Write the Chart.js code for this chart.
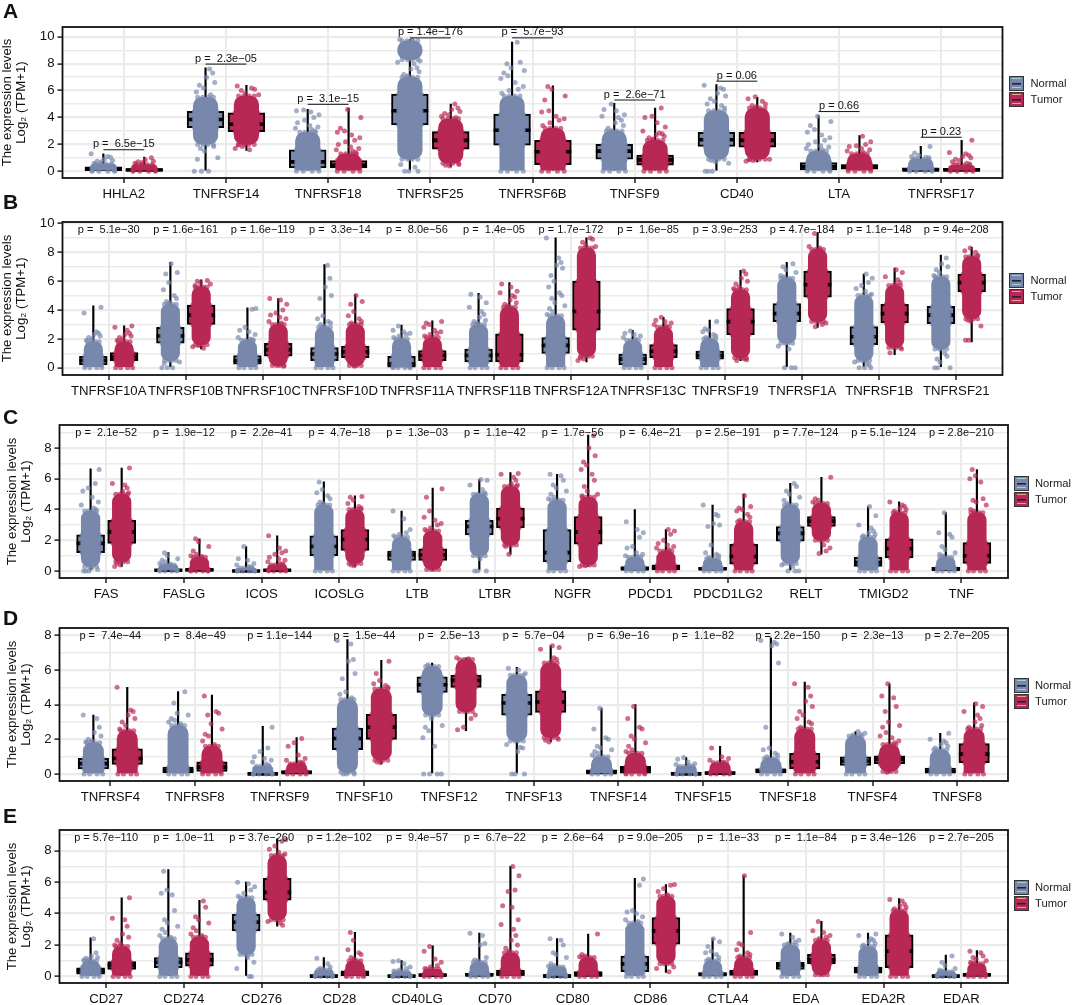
<!DOCTYPE html>
<html>
<head>
<meta charset="utf-8">
<title>Expression levels</title>
<script src="https://cdn.jsdelivr.net/npm/chart.js@4"></script>
<style>
  body { margin: 0; background: #fff; font-family: "Liberation Sans", Arial, sans-serif; }
  #page { position: relative; width: 1072px; height: 1005px; overflow: hidden; }
  canvas { position: absolute; left: 0; }
  .letter { position: absolute; left: 3px; font-size: 21px; font-weight: bold; line-height: 20px; color: #111; }
  .key { position: absolute; width: 15px; height: 15px; box-sizing: border-box; border: 1.5px solid #333; }
  .keyText { position: absolute; font-size: 11.2px; line-height: 14px; color: #222; }
</style>
</head>
<body>
<div id="page"></div>
<script>
// Panel A
const genesA = ["HHLA2", "TNFRSF14", "TNFRSF18", "TNFRSF25", "TNFRSF6B", "TNFSF9", "CD40", "LTA", "TNFRSF17"];
const pTextA = ["p =  6.5e−15", "p =  2.3e−05", "p =  3.1e−15", "p = 1.4e−176", "p =  5.7e−93", "p =  2.6e−71", "p = 0.06", "p = 0.66", "p = 0.23"];
const pLineA = [1.6, 7.97, 4.98, 9.92, 9.92, 5.3, 6.7, 4.44, 2.53];
const yTicksA = [0, 1, 2, 3, 4, 5, 6, 7, 8, 9, 10];
// low whisker, q1, median, q3, high whisker
const normalBoxA = [[0,.05,.2,.3,1.3],[0,3.25,3.85,4.45,7.7],[0,.25,.7,1.6,4.6],[0,3.45,4.5,5.75,9.8],[0,1.95,3.05,4.25,9.6],[0,.9,1.5,2,5.05],[0,1.85,2.35,2.9,6.45],[0,.1,.35,.65,4.15],[0,0,.1,.25,1.85]];
const tumorBoxA = [[0,.05,.1,.2,1.05],[1.55,2.95,3.5,4.35,6.4],[0,.25,.45,.8,4.7],[.35,1.65,2.3,2.95,5],[0,.5,1.45,2.3,6.35],[0,.45,.85,1.2,4.7],[.7,1.8,2.3,2.9,5.5],[0,.15,.35,.5,2.65],[0,0,.1,.22,2.3]];
// dense part of each cloud (pairs of from, to)
const normalBandA = [[0,.55],[2,5.5],[0,2.9],[.9,7,8.3,9.7],[0,5.6],[0,3],[.9,4.5],[0,1.5],[0,.9]];
const tumorBandA = [[0,.5],[2,5.6],[0,1.3],[.6,3.9],[0,3.2],[0,2.3],[.9,4.7],[0,1.3],[0,.45]];
// single dots outside the dense part
const normalDotsA = [[.6,.7,.75,.8,.9,1.05,1.1,1.3],[0,0,0,.9,1,1.5,1.7,1.85,5.7,5.9,6.2,6.4,6.6,7,7.3,7.6],[3,3.1,3.2,3.3,3.4,3.6,3.8,4,4.2,4.4,4.5,4.55],[0,0,0,.3,.5,7.1,7.2,7.4,7.6,7.7,8,8.1,8.2,9.75,9.8],[5.8,6,6.1,6.3,6.6,6.9,7.1,7.3,7.5,7.7,8,8.1,9.6],[3,3.2,3.4,3.6,3.8,4,4.1,4.2,4.5,4.6,5],[0,0,0,.6,.7,.8,4.7,4.9,5,5.2,5.4,5.6,5.8,6.1,6.2,6.4],[1.6,1.7,1.8,1.9,2,2.2,2.3,2.5,2.7,2.9,3.1,3.4,3.7,4.1],[.95,1,1.05,1.1,1.2,1.35,1.85]];
const tumorDotsA = [[.6,.65,.7,.75,.85,1],[1.6,1.7,1.85,1.95,5.7,5.8,6,6.1,6.2,6.35],[1.4,1.5,1.6,1.7,1.8,2,2.2,2.3,2.5,2.7,2.9,3,3.2,4,4.6],[.4,.45,.5,4,4.1,4.2,4.3,4.45,4.6,4.7,5],[3.4,3.6,3.8,3.9,4.1,4.4,4.5,5.3,5.6,6.1,6.3],[2.4,2.5,2.6,2.7,2.8,2.85,3,3.3,3.6,4,4.1,4.7],[.75,.8,.85,.9,4.8,4.9,5,5.2,5.4,5.55],[1.4,1.5,1.6,1.7,1.85,1.9,2,2.2,2.6],[.5,.55,.6,.7,.8,.9,1,1.1,1.2,1.3,1.4,2.3]];

// Panel B
const genesB = ["TNFRSF10A", "TNFRSF10B", "TNFRSF10C", "TNFRSF10D", "TNFRSF11A", "TNFRSF11B", "TNFRSF12A", "TNFRSF13C", "TNFRSF19", "TNFRSF1A", "TNFRSF1B", "TNFRSF21"];
const pTextB = ["p =  5.1e−30", "p = 1.6e−161", "p = 1.6e−119", "p =  3.3e−14", "p =  8.0e−56", "p =  1.4e−05", "p = 1.7e−172", "p =  1.6e−85", "p = 3.9e−253", "p = 4.7e−184", "p = 1.1e−148", "p = 9.4e−208"];
const yTicksB = [0, 1, 2, 3, 4, 5, 6, 7, 8, 9, 10];
const normalBoxB = [[0,.2,.5,.8,4.3],[0,1.7,2.2,2.8,7.3],[0,.25,.5,.85,4.15],[0,.5,.95,1.4,7.15],[0,.05,.25,.8,2.95],[0,.4,.85,1.3,5.15],[0,1,1.55,2.1,9],[0,.2,.6,.95,2.6],[0,.6,.85,1.15,3.3],[0,3.2,3.75,4.45,7.3],[0,1.6,2.15,2.85,6.5],[0,3.05,3.65,4.25,7.8]];
const tumorBoxB = [[0,.5,.75,1.05,2.9],[1.3,3,3.65,4.35,6.1],[.1,.8,1.25,1.7,4.8],[.1,.7,1.1,1.5,5.05],[0,.5,.85,1.2,3.25],[0,.4,.9,2.35,5.9],[.4,2.6,3.9,6,9],[0,.7,1.15,1.6,3.5],[.5,2.3,3.2,4.1,6.75],[2.8,4.9,5.75,6.7,9.35],[.9,3.1,3.75,4.4,6.9],[1.8,5.25,5.9,6.5,8.35]];
const normalBandB = [[0,1.8],[.5,4.4],[0,1.9],[0,2.8],[0,2],[0,3],[0,3.6],[0,1.9],[0,2],[1.7,6.2],[.5,5],[1.3,6.3]];
const tumorBandB = [[0,1.8],[1.6,5.6],[.15,3],[.15,3],[0,2.1],[0,4.2],[.8,8.3],[0,2.8],[.7,5.4],[3.2,8.2],[1.4,5.7],[3.4,7.7]];
const normalDotsB = [[1.9,2,2.1,2.2,2.3,2.4,2.5,3.8,4.2],[0,0,0,.3,.4,4.5,4.6,4.8,5,5.4,5.9,6.5,6.6,7.2],[1.95,2,2.1,2.3,2.5,2.6,2.8,4.05,4.1],[2.9,3,3.1,3.2,3.4,3.6,4.8,5,5.6,6.2,7.1],[2.1,2.2,2.3,2.4,2.5,2.6,2.9],[3.1,3.2,3.3,3.5,3.7,3.9,4.2,4.5,4.9,5.1],[3.7,3.9,4.1,4.3,4.5,4.8,5,5.2,5.6,6,6.4,6.9,7.1,7.3,7.6,9],[2,2.1,2.2,2.3,2.4,2.55],[2.1,2.2,2.3,2.5,2.6,2.7,3.2],[0,0,0,1.3,1.5,6.3,6.4,6.6,6.8,7,7.2],[0,0,0,.2,.3,.4,5.1,5.3,5.5,5.7,5.9,6.2,6.5],[0,0,0,.4,.6,.8,1,6.4,6.6,6.8,7,7.2,7.6]];
const tumorDotsB = [[1.9,2,2.1,2.2,2.3,2.4,2.6,2.8,2.9],[1.35,1.45,1.55,5.7,5.8,5.9,6,6.05],[.1,3.1,3.2,3.4,3.5,3.65,3.8,4,4.4,4.7,4.8],[.1,3.1,3.2,3.4,3.6,3.9,4.4,4.6,5],[2.2,2.3,2.4,2.5,2.6,2.8,3,3.1,3.2],[4.3,4.4,4.5,4.7,4.9,5,5.2,5.3,5.6,5.8],[.5,.6,.7,8.4,8.5,8.7,8.9,9],[2.9,3,3.1,3.2,3.3,3.5],[.5,.55,.6,5.5,5.6,5.8,6,6.2,6.5,6.7],[2.85,3,3.1,8.3,8.4,9.3],[1.05,1.3,5.8,5.9,6.1,6.3,6.6,6.8],[1.9,1.9,2.9,3.2,3.3,7.8,8,8.1,8.3]];

// Panel C
const genesC = ["FAS", "FASLG", "ICOS", "ICOSLG", "LTB", "LTBR", "NGFR", "PDCD1", "PDCD1LG2", "RELT", "TMIGD2", "TNF"];
const pTextC = ["p =  2.1e−52", "p =  1.9e−12", "p =  2.2e−41", "p =  4.7e−18", "p =  1.3e−03", "p =  1.1e−42", "p =  1.7e−56", "p =  6.4e−21", "p = 2.5e−191", "p = 7.7e−124", "p = 5.1e−124", "p = 2.8e−210"];
const yTicksC = [0, 1, 2, 3, 4, 5, 6, 7, 8, 9];
const normalBoxC = [[0,1.2,1.8,2.35,6.65],[0,0,.05,.1,1.2],[0,0,.01,.05,1.6],[0,1,1.6,2.3,5.8],[0,.7,1.05,1.3,3.9],[0,2.35,2.9,3.3,5.95],[0,.6,1.2,2.7,6.3],[0,0,.15,.3,4],[0,0,.15,.25,4.3],[0,1.95,2.45,2.9,5.7],[0,.3,.55,.9,4.2],[0,0,.13,.25,3.8]];
const tumorBoxC = [[.3,1.8,2.55,3.3,6.7],[0,.02,.08,.15,2.1],[0,0,.05,.1,2.3],[.3,1.35,2.05,2.7,4.9],[.05,.7,1.05,1.45,5.4],[1.1,2.8,3.4,4.1,6.4],[.3,1.75,2.55,3.55,8.85],[0,0,.2,.4,2.7],[0,.45,.95,1.75,5],[1.1,2.9,3.25,3.55,6.1],[0,.85,1.45,2.1,4.5],[0,.5,1,1.85,6.6]];
const normalBandC = [[.3,3.9],[0,.4],[0,.2],[0,4.3],[0,2.2],[1,5],[0,4.6],[0,.9],[0,.8],[.5,4.3],[0,2.2],[0,.9]];
const tumorBandC = [[.6,5],[0,.9],[0,.4],[.5,4],[.1,2.6],[1.7,5.5],[.4,4.8],[0,1.3],[0,3.2],[2,4.4],[0,3.8],[0,3.8]];
const normalDotsC = [[0,0,0,.1,.2,4,4.1,4.3,4.5,4.8,5.2,5.4,5.7,6.6],[.45,.5,.6,.7,.8,1,1.2],[.25,.3,.4,.5,.7,.8,1.6],[4.4,4.5,4.7,4.9,5.1,5.3,5.8],[2.3,2.4,2.5,2.7,3.4,3.9],[0,0,0,.8,5.1,5.3,5.6,5.9,5.95],[4.7,4.8,5,5.2,5.4,5.6,5.9,6.2,6.3],[.95,1,1.1,1.2,1.5,1.6,2.2,2.5,2.7,3.2],[.9,1,1.1,1.2,1.7,2.9,3,3.1,3.6,3.7,4.3],[0,0,0,.3,.4,4.4,4.6,4.8,5,5.2,5.5,5.7],[2.3,2.4,2.5,2.6,2.8,3,3.6,4.2],[1,1.1,1.2,1.4,1.6,2.2,2.4,2.5,3.8]];
const tumorDotsC = [[.3,.4,.5,5.1,5.2,5.4,5.6,5.7,6.7],[.95,1,1.1,1.3,1.6,1.9,2.1],[.45,.5,.6,.7,.8,.9,1.1,1.2,1.3,1.5,2.3],[.35,.4,4.1,4.2,4.4,4.6,4.8,4.85],[2.7,2.8,3,3.1,3.3,3.5,3.9,4.8,5.35],[1.1,1.6,5.6,5.7,5.9,6.1,6.3,6.35],[.3,.35,4.9,5,5.2,5.5,5.9,6.3,6.6,6.9,7.1,7.5,8,8.8],[1.4,1.5,1.6,1.7,1.8,2,2.4,2.6,2.7],[3.3,3.5,3.7,3.9,4,4.1,4.2,4.9],[1.15,1.3,1.5,1.7,4.5,4.6,4.7,6.1],[3.9,4,4.1,4.2,4.3,4.5],[3.9,4,4.3,4.5,4.6,4.7,5.8,6,6.2,6.6]];

// Panel D
const genesD = ["TNFRSF4", "TNFRSF8", "TNFRSF9", "TNFSF10", "TNFSF12", "TNFSF13", "TNFSF14", "TNFSF15", "TNFSF18", "TNFSF4", "TNFSF8"];
const pTextD = ["p =  7.4e−44", "p =  8.4e−49", "p = 1.1e−144", "p =  1.5e−44", "p =  2.5e−13", "p =  5.7e−04", "p =  6.9e−16", "p =  1.1e−82", "p = 2.2e−150", "p =  2.3e−13", "p = 2.7e−205"];
const yTicksD = [0, 1, 2, 3, 4, 5, 6, 7, 8];
const normalBoxD = [[0,.3,.6,.9,3.4],[0,0,.2,.4,4.75],[0,0,.01,.05,2.75],[0,1.4,2.05,2.65,7.75],[0,4.7,5.15,5.6,6.4],[0,3.4,4.1,4.6,6.15],[0,0,.1,.25,3.8],[0,0,.01,.08,.95],[0,0,.2,.3,7.85],[0,.5,.75,1,2.45],[0,0,.15,.35,2.35]];
const tumorBoxD = [[0,.55,.9,1.45,5],[0,.15,.4,.7,4.55],[0,0,.1,.18,2.1],[.6,2,2.7,3.45,6.55],[2.5,5,5.4,5.7,6.7],[1.85,3.55,4.15,4.8,7.4],[0,.05,.25,.45,4],[0,0,.05,.15,1.6],[0,.3,.7,1.2,5.3],[.1,.6,.85,1.05,5.2],[0,.65,1.15,1.75,4.1]];
const normalBandD = [[0,1.8],[0,2.8],[0,.45],[.1,4.3],[3.4,6.2],[1.9,5.7],[0,1],[0,.45],[0,.9],[0,2.2],[0,1.4]];
const tumorBandD = [[0,2.5],[0,1.6],[0,.6],[.8,4.9],[3.6,6.6],[2.1,6.4],[0,1.2],[0,.65],[0,2.6],[.15,1.7],[0,2.6]];
const normalDotsD = [[1.85,1.9,2,2.2,2.4,2.7,3.2,3.4],[2.9,3,3.1,3.2,3.4,3.5,4.1,4.75],[.5,.6,.7,.8,.9,1,1.3,1.5,2.7],[0,0,0,4.4,4.6,4.75,5.5,5.8,6.5,6.6,7.5,7.7],[0,0,0,0,1.6,2.1,2.5,2.7,2.8,3.2,6.3],[0,0,0,1.3,1.5,1.55,1.7,5.8,6,6.1],[1.1,1.2,1.3,1.4,1.5,1.6,2,2.1,2.6,3.8],[.5,.55,.6,.7,.85,.95],[1,1.1,1.2,1.4,1.5,2.7,6.4,7.4,7.5,7.6,7.7],[2.25,2.3,2.35,2.45],[1.5,1.6,1.7,1.8,1.9,2,2.35]];
const tumorDotsD = [[2.6,2.8,3,3.2,3.4,3.6,3.7,5],[1.7,1.9,2.2,2.3,2.6,2.9,3.4,3.5,3.6,4.5],[.65,.7,.8,.9,1.1,1.6,1.8,2.05],[.65,.7,5,5.1,5.2,5.4,5.8,6.5],[2.55,2.7,3.2,3.4,6.65,6.7],[1.85,1.95,2,6.5,6.6,6.7,7.2,7.3,7.4],[1.3,1.4,1.6,1.8,2,2.2,2.6,2.7,3.2,3.9],[.7,.8,.9,1,1.5],[2.7,2.9,3,3.2,3.4,3.6,3.9,4.2,4.5,5,5.2],[.1,1.8,1.9,2.1,2.2,2.4,2.7,2.8,3,3.6,3.9,4.4,4.5,5.2],[2.7,2.8,3,3.2,3.4,3.6,3.9,4.05]];

// Panel E
const genesE = ["CD27", "CD274", "CD276", "CD28", "CD40LG", "CD70", "CD80", "CD86", "CTLA4", "EDA", "EDA2R", "EDAR"];
const pTextE = ["p = 5.7e−110", "p =  1.0e−11", "p = 3.7e−260", "p = 1.2e−102", "p =  9.4e−57", "p =  6.7e−22", "p =  2.6e−64", "p = 9.0e−205", "p =  1.1e−33", "p =  1.1e−84", "p = 3.4e−126", "p = 2.7e−205"];
const yTicksE = [0, 1, 2, 3, 4, 5, 6, 7, 8, 9];
const normalBoxE = [[0,.15,.35,.55,2.45],[0,.55,.9,1.2,6.8],[0,2.9,3.45,3.95,6],[0,0,.02,.1,1.2],[0,0,.02,.07,1],[0,0,.1,.2,2.75],[0,0,.02,.12,2.4],[0,.3,.8,1.3,6.25],[0,0,.12,.25,2.4],[0,.45,.7,.9,2.75],[0,.2,.4,.6,2.75],[0,0,.02,.1,1.35]];
const tumorBoxE = [[0,.45,.7,.95,5],[0,.65,1.05,1.5,4.85],[3.2,4.85,5.35,6.25,8.75],[0,.05,.2,.35,2.8],[0,0,.08,.15,1.95],[0,0,.15,.4,7],[0,0,.1,.3,2.7],[.25,2.05,2.9,3.75,5.85],[0,0,.25,.4,6.4],[0,.8,1.05,1.4,3.5],[0,.55,1.6,2.65,4.95],[0,0,.1,.15,1.65]];
const normalBandE = [[0,1],[0,2.4],[1.4,5],[0,.4],[0,.3],[0,.9],[0,.6],[0,3.4],[0,1],[0,2],[0,1.9],[0,.3]];
const tumorBandE = [[0,1.9],[0,2.5],[3.6,7.7],[0,1],[0,.45],[0,1.5],[0,1.2],[.8,5.1],[0,1.2],[.1,2.3],[0,4.2],[0,.8]];
const normalDotsE = [[1.05,1.1,1.15,1.2,1.3,1.5,2.4],[2.5,2.6,2.8,3,3.2,3.4,3.6,4.2,5.2,5.3,5.5,6.7],[0,0,.5,.9,1.2,5.1,5.3,5.5,5.7,5.9,6],[.45,.5,.6,.8,1.15],[.35,.4,.5,.6,.8,.95,1],[1,1.05,1.2,2,2.1,2.6,2.75],[.65,.7,.8,1.2,1.4,1.5,2,2.3,2.4],[3.5,3.6,3.8,4,4.1,4.2,5.8,6.2],[1.1,1.2,1.4,1.5,1.6,1.9,2.2,2.4],[2.1,2.2,2.3,2.5,2.7],[2,2.1,2.2,2.3,2.4,2.6,2.7],[.35,.4,.5,.7,.9,1.3]];
const tumorDotsE = [[2,2.1,2.3,2.5,2.7,3.2,3.6,3.7,5],[2.6,2.7,2.9,3.1,3.4,3.6,3.8,4.4,4.8],[3.25,3.4,3.5,7.8,7.9,8.1,8.3,8.6,8.7],[1.1,1.2,1.4,1.5,1.7,2.3,2.8],[.5,.6,.7,.9,1.1,1.6,1.9],[1.6,1.8,2,2.3,2.6,3,3.3,3.6,4.4,4.5,5.4,5.5,6.4,7],[1.25,1.3,1.4,2.7],[.3,.5,.6,5.2,5.4,5.6,5.8,5.85],[1.3,1.4,1.5,1.7,2,2.1,2.8,6.4],[2.4,2.5,2.6,2.8,2.9,3.5],[4.3,4.4,4.5,4.6,4.8,4.9],[.85,.9,1,1.1,1.2,1.3,1.5,1.6]];

// sideways shift of the dots, in category units
const jitter = [-.09, .06, -.02, .11, -.06, .03, .09, -.11, .01, -.04, .07, -.08, .04, .12, -.12, -.01, .1, -.05, .02, .08, -.1, .05, -.03];
const edgeShift = [-.11, .11];

const normalColor = "rgb(120,135,172)";
const tumorColor = "rgb(184,40,84)";
const normalDot = "rgba(120,135,172,0.68)";
const tumorDot = "rgba(184,40,84,0.68)";

const page = document.getElementById("page");

// frame and y axis of each panel, measured on the picture
const panels = [
  { name: "A", letterY: 1, genes: genesA, pText: pTextA, pLine: pLineA, yTicks: yTicksA, normalBox: normalBoxA, tumorBox: tumorBoxA, normalBand: normalBandA, tumorBand: tumorBandA, normalDots: normalDotsA, tumorDots: tumorDotsA,
    left: 62.5, right: 1002.5, top: 24.5, bottom: 177.5, yMin: -0.5, yMax: 10.73, titleTop: 0.5, keyX: 1009, keyY: 76, textX: 1030.5 },
  { name: "B", letterY: 192, genes: genesB, pText: pTextB, pY: 9.52, yTicks: yTicksB, normalBox: normalBoxB, tumorBox: tumorBoxB, normalBand: normalBandB, tumorBand: tumorBandB, normalDots: normalDotsB, tumorDots: tumorDotsB,
    left: 62.5, right: 1002.5, top: 221.5, bottom: 375, yMin: -0.5, yMax: 10.1, titleTop: 0.5, keyX: 1009, keyY: 273, textX: 1030.5 },
  { name: "C", letterY: 407, genes: genesC, pText: pTextC, pY: 8.98, yTicks: yTicksC, normalBox: normalBoxC, tumorBox: tumorBoxC, normalBand: normalBandC, tumorBand: tumorBandC, normalDots: normalDotsC, tumorDots: tumorDotsC,
    left: 59.5, right: 1008, top: 425, bottom: 578.5, yMin: -0.45, yMax: 9.5, titleTop: 5, keyX: 1013.5, keyY: 476, textX: 1035 },
  { name: "D", letterY: 608, genes: genesD, pText: pTextD, pY: 7.98, yTicks: yTicksD, normalBox: normalBoxD, tumorBox: tumorBoxD, normalBand: normalBandD, tumorBand: tumorBandD, normalDots: normalDotsD, tumorDots: tumorDotsD,
    left: 59.5, right: 1008, top: 627.5, bottom: 780.5, yMin: -0.4, yMax: 8.42, titleTop: 5, keyX: 1013.5, keyY: 678, textX: 1035 },
  { name: "E", letterY: 806, genes: genesE, pText: pTextE, pY: 8.79, yTicks: yTicksE, normalBox: normalBoxE, tumorBox: tumorBoxE, normalBand: normalBandE, tumorBand: tumorBandE, normalDots: normalDotsE, tumorDots: tumorDotsE,
    left: 59.5, right: 1008, top: 829.5, bottom: 982.5, yMin: -0.42, yMax: 9.32, titleTop: 5, keyX: 1013.5, keyY: 880, textX: 1035 },
];

// frame round the plot and the p values, drawn last
const framePlugin = {
  id: "framePlugin",
  afterDraw(chart, args, opts) {
    const c = chart.ctx, a = chart.chartArea;
    const x = chart.scales.x, y = chart.scales.y;
    c.save();
    c.fillStyle = "#111";
    c.strokeStyle = "#111";
    c.font = "11px 'Liberation Sans'";
    c.textAlign = "center";
    c.textBaseline = "middle";
    opts.pText.forEach((t, i) => {
      if (opts.pLine) {
        const py = y.getPixelForValue(opts.pLine[i]);
        c.lineWidth = 1;
        c.beginPath();
        c.moveTo(x.getPixelForValue(i - 0.2), py);
        c.lineTo(x.getPixelForValue(i + 0.2), py);
        c.stroke();
        c.fillText(t, x.getPixelForValue(i), py - 5.5);
      } else {
        c.fillText(t, x.getPixelForValue(i), y.getPixelForValue(opts.pY));
      }
    });
    c.lineWidth = 1.8;
    c.strokeRect(a.left, a.top, a.right - a.left, a.bottom - a.top);
    c.restore();
  },
};

function groupDatasets(p, box, band, dots, off, fill, dot) {
  const spacing = (p.right - p.left) / (p.genes.length + 0.2);
  const x = (i) => i + off;
  const barBase = { type: "bar", grouped: false, barPercentage: 1, categoryPercentage: 1 };
  const whisker = { ...barBase, order: 5, backgroundColor: "#000", maxBarThickness: 1.5,
    data: box.map((b, i) => ({ x: x(i), y: [b[0], b[4]] })) };
  const boxes = { ...barBase, order: 4, backgroundColor: fill, borderColor: "#000", borderWidth: 2, borderSkipped: false,
    maxBarThickness: spacing * 0.36, data: box.map((b, i) => ({ x: x(i), y: [b[1], b[3]] })) };
  const medians = { type: "scatter", order: 3, pointStyle: "line", pointRadius: spacing * 0.18, pointBorderWidth: 3.6, pointBorderColor: "#000",
    data: box.map((b, i) => ({ x: x(i), y: b[2] })) };
  const bandData = [];
  const dotData = [];
  band.forEach((b, i) => {
    for (let k = 0; k < b.length; k += 2) {
      bandData.push({ x: x(i), y: [b[k], b[k + 1]] });
      // soften the ends of the dense part: flat at zero, rounded elsewhere
      edgeShift.forEach((s) => {
        dotData.push({ x: x(i) + s * 0.7, y: b[k + 1] }, { x: x(i) + s * 0.25, y: b[k + 1] });
        if (b[k] === 0) dotData.push({ x: x(i) + s, y: 0 }, { x: x(i) + s * 0.4, y: 0 });
        else dotData.push({ x: x(i) + s * 0.7, y: b[k] }, { x: x(i) + s * 0.2, y: b[k] });
      });
    }
    [box[i][1], box[i][2], box[i][3]].forEach((v) => {
      if (v > b[0] && v < b[b.length - 1]) edgeShift.forEach((s) => dotData.push({ x: x(i) + s, y: v }));
    });
    dots[i].forEach((v, k) => dotData.push({ x: x(i) + jitter[(k * 2 + i * 5) % jitter.length], y: v }));
  });
  const bands = { ...barBase, order: 2, backgroundColor: fill, borderSkipped: false,
    borderRadius: (c) => {
      if (!c.raw) return 0;
      const r = Math.min(spacing * 0.1, 9);
      return c.raw.y[0] === 0 ? { topLeft: r, topRight: r, bottomLeft: 2, bottomRight: 2 } : r;
    },
    maxBarThickness: spacing * 0.24, data: bandData };
  const points = { type: "scatter", order: 1, pointRadius: 2.5, pointBorderWidth: 0, pointBackgroundColor: dot, data: dotData };
  return [whisker, boxes, medians, bands, points];
}

function drawPanel(p) {
  const cv = document.createElement("canvas");
  const canvasTop = p.top - 20;
  const canvasH = p.bottom - p.top + 60;
  cv.width = 1072;
  cv.height = canvasH;
  cv.style.top = canvasTop + "px";
  page.appendChild(cv);

  new Chart(cv.getContext("2d"), {
    type: "scatter",
    data: {
      datasets: [
        ...groupDatasets(p, p.normalBox, p.normalBand, p.normalDots, -0.2, normalColor, normalDot),
        ...groupDatasets(p, p.tumorBox, p.tumorBand, p.tumorDots, 0.2, tumorColor, tumorDot),
      ],
    },
    plugins: [framePlugin],
    options: {
      responsive: false,
      animation: false,
      events: [],
      layout: { padding: { top: 20, right: 1072 - p.right, left: 0, bottom: 0 } },
      plugins: {
        legend: { display: false },
        tooltip: { enabled: false },
        framePlugin: { pText: p.pText, pLine: p.pLine, pY: p.pY },
      },
      scales: {
        x: {
          type: "linear",
          offset: false,
          min: -0.6,
          max: p.genes.length - 0.4,
          afterBuildTicks: (a) => { a.ticks = p.genes.map((g, i) => ({ value: i })); },
          afterFit: (s) => { s.height = 40; },
          border: { display: false },
          grid: { offset: false, color: "#ebebeb", lineWidth: 2, tickColor: "#111", tickWidth: 1.4, tickLength: 5 },
          ticks: { autoSkip: false, maxRotation: 0, padding: 3, color: "#111", font: { family: "Liberation Sans", size: 13.2 },
            callback: (v) => p.genes[v] },
        },
        y: {
          min: p.yMin,
          max: p.yMax,
          afterBuildTicks: (a) => { a.ticks = p.yTicks.map((v) => ({ value: v })); },
          afterFit: (s) => { s.width = p.left; },
          border: { display: false },
          grid: {
            color: "#ebebeb",
            lineWidth: (c) => (c.tick.value % 2 === 0 ? 2.2 : 1.4),
            tickColor: (c) => (c.tick.value % 2 === 0 ? "#111" : "rgba(0,0,0,0)"),
            tickWidth: 1.4,
            tickLength: 5,
          },
          ticks: { autoSkip: false, padding: 3, color: "#111", font: { family: "Liberation Sans", size: 13.2 },
            callback: (v) => (v % 2 === 0 ? String(v) : "") },
          title: { display: true, text: ["The expression levels", "Log₂ (TPM+1)"], color: "#111",
            font: { family: "Liberation Sans", size: 13.2, lineHeight: 1.06 }, padding: { top: p.titleTop, bottom: 0 } },
        },
      },
    },
  });

  const letter = document.createElement("div");
  letter.className = "letter";
  letter.style.top = p.letterY + "px";
  letter.textContent = p.name;
  page.appendChild(letter);

  [["Normal", normalColor, "#9fd0dc"], ["Tumor", tumorColor, "#f0a08c"]].forEach(([label, col, stripe], k) => {
    const key = document.createElement("div");
    key.className = "key";
    key.style.left = p.keyX + "px";
    key.style.top = p.keyY + k * 16 + "px";
    key.style.background =
      "linear-gradient(" + stripe + " 0 0) center 1px/9px 1px no-repeat," +
      "linear-gradient(" + stripe + " 0 0) center 10px/9px 1px no-repeat," +
      "linear-gradient(#223 0 0) center 5.5px/9px 1.6px no-repeat," + col;
    page.appendChild(key);
    const txt = document.createElement("div");
    txt.className = "keyText";
    txt.style.left = p.textX + "px";
    txt.style.top = p.keyY + k * 16 + "px";
    txt.textContent = label;
    page.appendChild(txt);
  });
}

panels.forEach(drawPanel);
</script>
</body>
</html>
